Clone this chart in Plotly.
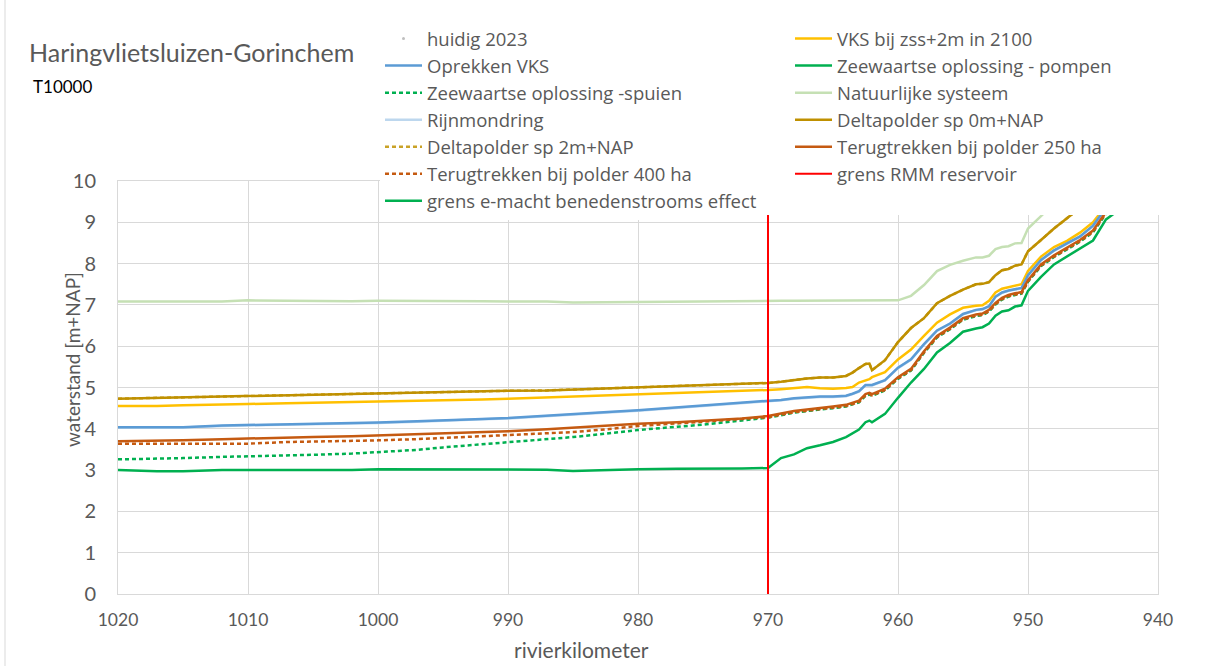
import plotly.graph_objects as go

# ---------------- data ----------------
km = [1020, 1017, 1015, 1012, 1010, 1007, 1005, 1002, 1000, 997, 995, 992, 990, 987, 985, 982, 980, 977, 975, 972, 970,
      969, 968, 967, 966, 965, 964, 963.5, 963, 962.5, 962.2, 962, 961, 960,
      959, 958, 957, 956, 955, 954, 953.5, 953, 952.5, 952, 951.5, 951, 950.5, 950,
      949, 948, 947, 946, 945, 944, 943, 942]

vks_zss2m = [4.55, 4.55, 4.57, 4.58, 4.60, 4.62, 4.63, 4.65, 4.66, 4.68, 4.69, 4.71, 4.73, 4.76, 4.78, 4.81, 4.83, 4.86, 4.89, 4.91, 4.94,
             4.96, 4.98, 5.01, 4.98, 4.97, 4.99, 5.01, 5.12, 5.17, 5.20, 5.25, 5.37, 5.68,
             5.92, 6.25, 6.57, 6.77, 6.93, 6.98, 6.99, 7.10, 7.30, 7.39, 7.43, 7.47, 7.50, 7.82,
             8.17, 8.40, 8.55, 8.75, 9.00, 9.40, 9.90, 10.40]

oprekken_vks = [4.04, 4.04, 4.04, 4.08, 4.09, 4.10, 4.11, 4.13, 4.15, 4.18, 4.21, 4.24, 4.26, 4.31, 4.36, 4.41, 4.45, 4.52, 4.56, 4.63, 4.67,
                4.70, 4.74, 4.76, 4.78, 4.78, 4.80, 4.85, 4.91, 5.06, 5.07, 5.06, 5.18, 5.48,
                5.68, 6.05, 6.38, 6.55, 6.78, 6.88, 6.90, 6.97, 7.20, 7.30, 7.35, 7.38, 7.41, 7.72,
                8.09, 8.32, 8.48, 8.66, 8.92, 9.35, 9.85, 10.30]

zee_pompen = [3.00, 2.97, 2.97, 3.00, 3.00, 3.00, 3.00, 3.00, 3.02, 3.02, 3.02, 3.02, 3.02, 3.01, 2.98, 3.01, 3.02, 3.03, 3.03, 3.04, 3.05,
              3.29, 3.38, 3.53, 3.60, 3.68, 3.80, 3.88, 3.98, 4.16, 4.20, 4.16, 4.36, 4.75,
              5.12, 5.45, 5.85, 6.08, 6.35, 6.43, 6.46, 6.55, 6.74, 6.84, 6.87, 6.96, 6.99, 7.34,
              7.68, 7.98, 8.17, 8.38, 8.56, 9.07, 9.30, 9.80]

zee_spuien = [3.26, 3.27, 3.29, 3.32, 3.33, 3.36, 3.37, 3.40, 3.43, 3.49, 3.55, 3.63, 3.68, 3.75, 3.80, 3.90, 3.97, 4.05, 4.10, 4.20, 4.27,
              4.33, 4.39, 4.43, 4.46, 4.50, 4.54, 4.59, 4.64, 4.80, 4.83, 4.80, 4.93, 5.21,
              5.41, 5.84, 6.21, 6.41, 6.64, 6.73, 6.75, 6.84, 7.01, 7.13, 7.20, 7.24, 7.27, 7.56,
              7.94, 8.16, 8.34, 8.53, 8.76, 9.21, 9.71, 10.16]

natuurlijk = [7.08, 7.08, 7.08, 7.08, 7.11, 7.10, 7.09, 7.09, 7.10, 7.10, 7.10, 7.09, 7.08, 7.08, 7.06, 7.07, 7.08, 7.08, 7.08, 7.10, 7.10,
              7.10, 7.10, 7.10, 7.10, 7.10, 7.10, 7.10, 7.10, 7.10, 7.10, 7.10, 7.10, 7.11,
              7.22, 7.48, 7.82, 7.97, 8.07, 8.15, 8.15, 8.19, 8.35, 8.40, 8.42, 8.49, 8.50, 8.85,
              9.15, 9.45, 9.75, 10.05, 10.40, 10.80, 11.20, 11.60]

rijnmondring = [4.03, 4.03, 4.03, 4.07, 4.08, 4.09, 4.10, 4.12, 4.14, 4.17, 4.20, 4.23, 4.25, 4.30, 4.35, 4.40, 4.44, 4.51, 4.55, 4.62, 4.66,
                4.69, 4.73, 4.75, 4.77, 4.77, 4.79, 4.84, 4.90, 5.05, 5.06, 5.05, 5.17, 5.47,
                5.67, 6.04, 6.37, 6.54, 6.77, 6.87, 6.89, 6.96, 7.19, 7.29, 7.34, 7.37, 7.40, 7.71,
                8.08, 8.31, 8.47, 8.65, 8.91, 9.34, 9.84, 10.29]

delta_0m = [4.73, 4.75, 4.76, 4.78, 4.79, 4.80, 4.82, 4.84, 4.85, 4.87, 4.89, 4.91, 4.92, 4.93, 4.95, 4.98, 5.00, 5.03, 5.06, 5.09, 5.11,
            5.14, 5.18, 5.22, 5.24, 5.24, 5.28, 5.36, 5.47, 5.57, 5.58, 5.42, 5.66, 6.10,
            6.44, 6.68, 7.04, 7.22, 7.37, 7.50, 7.51, 7.55, 7.72, 7.84, 7.87, 7.95, 7.98, 8.30,
            8.57, 8.85, 9.10, 9.35, 9.65, 9.95, 10.30, 10.60]

delta_2m = [4.73, 4.75, 4.76, 4.78, 4.79, 4.80, 4.82, 4.84, 4.85, 4.87, 4.89, 4.91, 4.92, 4.93, 4.95, 4.98, 5.00, 5.03, 5.06, 5.09, 5.11,
            5.14, 5.18, 5.22, 5.24, 5.24, 5.28, 5.36, 5.47, 5.57, 5.58, 5.42, 5.66, 6.10,
            6.44, 6.68, 7.04, 7.22, 7.37, 7.50, 7.51, 7.55, 7.72, 7.84, 7.87, 7.95, 7.98, 8.30,
            8.57, 8.85, 9.10, 9.35, 9.65, 9.95, 10.30, 10.60]

terug_250 = [3.70, 3.71, 3.72, 3.75, 3.76, 3.78, 3.80, 3.82, 3.84, 3.88, 3.90, 3.92, 3.94, 3.99, 4.03, 4.08, 4.12, 4.16, 4.20, 4.25, 4.31,
             4.37, 4.43, 4.47, 4.50, 4.54, 4.58, 4.63, 4.68, 4.84, 4.87, 4.84, 4.97, 5.25,
             5.45, 5.88, 6.25, 6.45, 6.68, 6.77, 6.79, 6.88, 7.05, 7.17, 7.24, 7.28, 7.31, 7.60,
             7.98, 8.20, 8.38, 8.57, 8.80, 9.25, 9.75, 10.20]

terug_400 = [3.64, 3.64, 3.64, 3.64, 3.64, 3.68, 3.69, 3.70, 3.72, 3.75, 3.78, 3.81, 3.84, 3.89, 3.92, 4.00, 4.07, 4.13, 4.18, 4.24, 4.28,
             4.34, 4.40, 4.44, 4.47, 4.51, 4.55, 4.60, 4.65, 4.81, 4.84, 4.81, 4.94, 5.22,
             5.42, 5.85, 6.22, 6.42, 6.65, 6.74, 6.76, 6.85, 7.02, 7.14, 7.21, 7.25, 7.28, 7.57,
             7.95, 8.17, 8.35, 8.54, 8.77, 9.22, 9.72, 10.17]

rmm_km = [970, 970]
rmm_level = [0, 10]

x_ticks = [1020, 1010, 1000, 990, 980, 970, 960, 950, 940]
y_ticks = [0, 1, 2, 3, 4, 5, 6, 7, 8, 9, 10]

# ---------------- figure ----------------
FONT = "Lato, Open Sans, sans-serif"
LFONT = "Open Sans, Lato, sans-serif"
GREY = "#595959"
W = 2.5
DOT = "4px,3px"

fig = go.Figure()

def line(name, y, color, rank, legend, dash=None, width=W, x=None):
    fig.add_trace(go.Scatter(
        x=km if x is None else x, y=y, name=name, mode="lines",
        line=dict(color=color, width=width, dash=dash),
        legendrank=rank, legend=legend, hoverinfo="skip"))

# drawing order (bottom to top); legendrank keeps the legend order
fig.add_trace(go.Scatter(x=[None], y=[None], name="huidig 2023", mode="markers",
                         marker=dict(color="#bfbfbf", size=3), legendrank=1, legend="legend"))
line("Natuurlijke systeem", natuurlijk, "#c5e0b4", 3, "legend2")
line("Deltapolder sp 2m+NAP", delta_2m, "#c9a227", 5, "legend", dash=DOT)
line("Deltapolder sp 0m+NAP", delta_0m, "#bf9000", 4, "legend2")
line("VKS bij zss+2m in 2100", vks_zss2m, "#ffc000", 1, "legend2")
line("Rijnmondring", rijnmondring, "#bdd7ee", 4, "legend")
line("Oprekken VKS", oprekken_vks, "#5b9bd5", 2, "legend")
line("Zeewaartse oplossing -spuien", zee_spuien, "#00b050", 3, "legend", dash=DOT)
line("Terugtrekken bij polder 400 ha", terug_400, "#c55a11", 6, "legend", dash=DOT)
line("Terugtrekken bij polder 250 ha", terug_250, "#c55a11", 5, "legend2")
line("Zeewaartse oplossing - pompen", zee_pompen, "#00b050", 2, "legend2")
line("grens RMM reservoir", rmm_level, "#ff0000", 6, "legend2", x=rmm_km, width=2)
fig.add_trace(go.Scatter(x=[None], y=[None], name="grens e-macht benedenstrooms effect", mode="lines",
                         line=dict(color="#00b050", width=W), legendrank=7, legend="legend"))

L, R, T, B = 118, 52, 181, 72
PW, PH = 1210 - L - R, 666 - T - B

def px(xp):
    return (xp - L) / PW

def py(yp):
    return (666 - B - yp) / PH

leg_common = dict(
    orientation="v", y=py(20), xanchor="left", yanchor="top",
    itemwidth=37, bgcolor="white", traceorder="normal",
    font=dict(family=LFONT, size=18.5, color=GREY),
)

fig.update_layout(
    width=1210, height=666,
    margin=dict(l=L, r=R, t=T, b=B),
    paper_bgcolor="white", plot_bgcolor="white",
    font=dict(family=FONT, color=GREY),
    showlegend=True,
    legend=dict(x=px(380), **leg_common),
    legend2=dict(x=px(790), **leg_common),
    xaxis=dict(
        range=[1020, 940], tickvals=x_ticks, ticktext=[str(v) for v in x_ticks],
        showgrid=True, gridcolor="#d9d9d9", gridwidth=1, zeroline=False,
        showline=True, linecolor="#d9d9d9", linewidth=1, mirror=True,
        ticks="", tickfont=dict(family=FONT, size=17.5, color=GREY), ticklabelstandoff=10,
    ),
    yaxis=dict(
        range=[0, 10], tickvals=y_ticks,
        showgrid=True, gridcolor="#d9d9d9", gridwidth=1, zeroline=False,
        showline=True, linecolor="#d9d9d9", linewidth=1, mirror=True,
        ticks="", tickfont=dict(family=FONT, size=20, color=GREY), ticklabelstandoff=17,
    ),
    annotations=[
        dict(text="Haringvlietsluizen-Gorinchem", xref="paper", yref="paper",
             x=px(27), y=py(52), xanchor="left", yanchor="middle", showarrow=False,
             font=dict(family=FONT, size=25, color=GREY)),
        dict(text="T10000", xref="paper", yref="paper",
             x=px(31), y=py(86), xanchor="left", yanchor="middle", showarrow=False,
             font=dict(family=FONT, size=17, color="black")),
        dict(text="waterstand [m+NAP]", xref="paper", yref="paper",
             x=px(72), y=py(360), xanchor="center", yanchor="middle", showarrow=False,
             textangle=-90, font=dict(family=FONT, size=19, color=GREY)),
        dict(text="rivierkilometer", xref="paper", yref="paper",
             x=px(581), y=py(649), xanchor="center", yanchor="middle", showarrow=False,
             font=dict(family=FONT, size=21, color=GREY)),
    ],
    shapes=[
        dict(type="line", xref="paper", yref="paper", x0=px(5), x1=px(5), y0=py(666), y1=py(0),
             line=dict(color="#d9d9d9", width=1)),
        dict(type="rect", xref="paper", yref="paper", layer="above",
             x0=px(380), x1=px(1210), y0=py(215), y1=py(20),
             fillcolor="white", line=dict(width=0)),
    ],
)

fig.write_html("out.html",
               config={"displayModeBar": False},
               post_script="document.body.style.margin='0';document.body.style.overflow='hidden';")
